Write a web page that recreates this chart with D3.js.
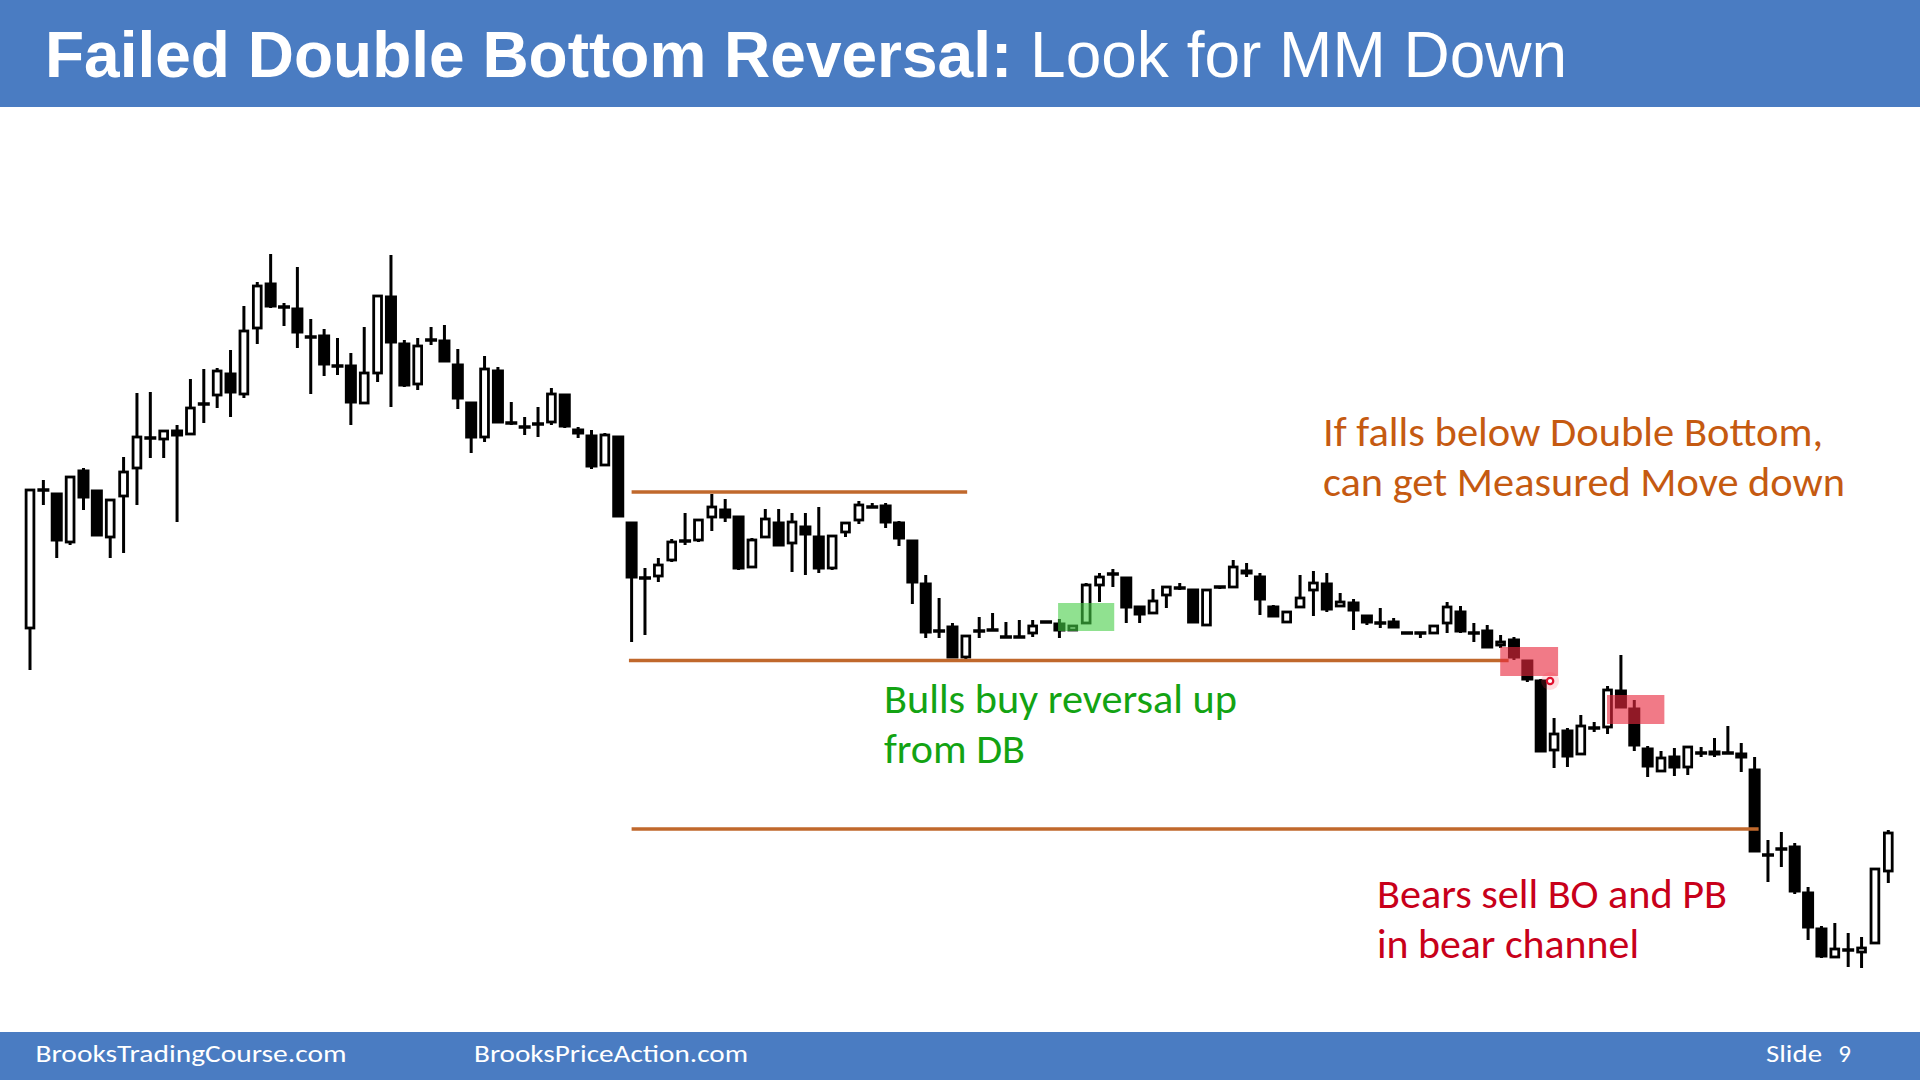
<!DOCTYPE html>
<html><head><meta charset="utf-8">
<script src="https://cdn.jsdelivr.net/npm/d3@7"></script>
<style>
html,body{margin:0;padding:0;background:#fff;}
svg{display:block;}
</style></head><body>
<svg id="chart" width="1920" height="1080"></svg>
<script>
// ---- Data (bar index 1..140, price units) ----
const opens = [472,610,607,558,630,610,563,604,632,662,661,670,666,696,705,727,706,772,817,793,792,763,765,734,735,697,727,804,757,716,760,760,736,698,663,730,677,673,676,678,706,671,665,635,664,578,522,524,540,559,560,583,591,584,533,563,578,557,574,564,532,568,580,593,595,578,560,517,469,474,443,469,470,463,463,467,478,477,470,477,515,526,523,494,487,505,512,511,475,513,513,530,524,494,478,493,510,517,494,498,485,477,479,467,467,467,477,489,467,470,455,461,440,420,350,370,346,372,373,410,392,352,329,344,333,347,349,347,347,331,245,251,254,208,172,143,150,148,157,229];
const highs = [610,620,607,623,632,610,601,643,707,708,670,675,721,731,732,750,794,818,846,797,833,781,771,762,747,773,804,845,760,762,773,775,751,698,744,733,698,683,693,712,706,673,670,667,664,578,532,542,561,587,580,606,601,584,562,591,591,587,587,593,564,578,599,597,597,579,560,525,502,477,464,483,487,478,480,480,479,481,474,517,527,531,523,494,511,514,517,511,511,514,540,537,527,495,488,525,529,527,507,501,485,492,482,468,468,474,498,494,477,475,465,463,440,421,382,372,385,378,414,445,400,354,349,352,353,353,362,374,357,343,260,268,257,213,174,177,167,163,232,270];
const lows = [430,595,542,555,590,564,542,547,595,642,642,578,666,677,692,683,702,756,792,774,752,706,724,725,675,697,718,693,713,710,755,738,691,647,658,677,675,665,663,675,672,662,631,635,583,458,465,518,538,555,558,569,578,530,533,563,554,528,525,527,530,563,576,593,572,554,496,462,462,442,440,462,469,463,462,463,477,462,470,477,498,513,477,477,487,492,510,477,475,511,512,523,485,483,478,493,484,488,493,470,475,472,472,466,462,467,467,467,458,452,452,440,418,348,332,333,346,368,366,392,349,323,329,324,325,343,343,346,328,248,218,233,206,160,142,143,133,132,157,217];
const closes = [610,610,559,623,602,564,600,628,663,662,669,664,692,696,729,707,769,814,793,793,767,763,735,734,697,727,804,757,714,754,760,738,701,662,731,677,677,673,676,706,673,666,633,665,583,522,522,535,558,559,580,593,582,531,560,581,554,578,565,531,564,577,595,593,577,561,517,467,469,442,464,469,470,463,463,474,478,469,474,515,523,526,492,485,499,513,512,477,510,513,533,526,500,483,488,502,517,490,498,489,477,477,472,467,467,474,493,468,467,452,458,442,420,348,366,343,374,372,410,392,354,333,342,332,353,347,345,347,342,248,245,251,208,172,143,151,150,152,231,267];

// Horizontal reference levels (price) and the bar range they span
const levelPrices = [608, 439.5, 271];
const levelFrom   = [46.0, 45.8, 46.0];
const levelTo     = [71.1, 111.6, 130.3];

// Highlight zones: bar index range and price range
const zoneKinds   = ['bull', 'bear', 'bear'];
const zoneFrom    = [77.9, 110.97, 118.96];
const zoneTo      = [82.1, 115.3, 123.25];
const zoneLow     = [469, 424, 376];
const zoneHigh    = [497, 453, 405];

const titleBold = 'Failed Double Bottom Reversal:';
const titleRest = 'Look for MM Down';
const noteOrange = ['If falls below Double Bottom,', 'can get Measured Move down'];
const noteGreen  = ['Bulls buy reversal up', 'from DB'];
const noteRed    = ['Bears sell BO and PB', 'in bear channel'];
const footerTexts = ['BrooksTradingCourse.com', 'BrooksPriceAction.com'];
const slideLabel = 'Slide';
const slideNum = '9';

// ---- Drawing ----
const W = 1920, H = 1080;
const svg = d3.select('#chart');
svg.append('rect').attr('width', W).attr('height', H).attr('fill', '#ffffff');

const bars = opens.map((o, i) => ({i: i + 1, o, h: highs[i], l: lows[i], c: closes[i]}));

const x = d3.scaleLinear().domain([1, 140]).range([30, 1888.3]);
const y = d3.scaleLinear().domain([0, 1100]).range([1100, 0]);

const g = svg.append('g');

// wicks
g.selectAll('line.wick').data(bars).join('line')
  .attr('class', 'wick')
  .attr('x1', d => x(d.i)).attr('x2', d => x(d.i))
  .attr('y1', d => y(d.h)).attr('y2', d => y(d.l))
  .attr('stroke', '#000').attr('stroke-width', 3);

// dojis
const dojis = bars.filter(d => d.o === d.c);
g.selectAll('line.doji').data(dojis).join('line')
  .attr('class', 'doji')
  .attr('x1', d => x(d.i) - 6).attr('x2', d => x(d.i) + 6)
  .attr('y1', d => y(d.o)).attr('y2', d => y(d.o))
  .attr('stroke', '#000').attr('stroke-width', 3.5);

// bear bodies (filled)
const bears = bars.filter(d => d.c < d.o);
g.selectAll('rect.bear').data(bears).join('rect')
  .attr('class', 'bear')
  .attr('x', d => x(d.i) - 6)
  .attr('width', 12)
  .attr('y', d => y(d.o) - 0.5)
  .attr('height', d => Math.max(y(d.c) - y(d.o) + 1, 4))
  .attr('fill', '#000');

// bull bodies (hollow)
const bulls = bars.filter(d => d.c > d.o);
g.selectAll('rect.bull').data(bulls).join('rect')
  .attr('class', 'bull')
  .attr('x', d => x(d.i) - 3.9)
  .attr('width', 7.8)
  .attr('y', d => y(d.c))
  .attr('height', d => Math.max(y(d.o) - y(d.c), 3))
  .attr('fill', '#fff')
  .attr('stroke', '#000').attr('stroke-width', 2.8);

// level lines
const levels = levelPrices.map((p, k) => ({p, a: levelFrom[k], b: levelTo[k]}));
g.selectAll('line.level').data(levels).join('line')
  .attr('class', 'level')
  .attr('x1', d => x(d.a)).attr('x2', d => x(d.b))
  .attr('y1', d => y(d.p)).attr('y2', d => y(d.p))
  .attr('stroke', '#C0682C').attr('stroke-width', 3.6);

// zones
const zones = zoneKinds.map((k, j) => ({k, a: zoneFrom[j], b: zoneTo[j], lo: zoneLow[j], hi: zoneHigh[j]}));
g.selectAll('rect.zone').data(zones).join('rect')
  .attr('class', 'zone')
  .attr('x', d => x(d.a)).attr('width', d => x(d.b) - x(d.a))
  .attr('y', d => y(d.hi)).attr('height', d => y(d.lo) - y(d.hi))
  .attr('fill', d => d.k === 'bull' ? 'rgba(70,205,70,0.6)' : 'rgba(232,40,62,0.62)');

// cursor marker
const mk = {i: 114.7, p: 419};
g.append('circle').attr('cx', x(mk.i)).attr('cy', y(mk.p)).attr('r', 9)
  .attr('fill', 'rgba(255,60,80,0.18)');
g.append('circle').attr('cx', x(mk.i)).attr('cy', y(mk.p)).attr('r', 3.2)
  .attr('fill', '#fff').attr('stroke', '#E0102E').attr('stroke-width', 2.2);

// header bar
svg.append('rect').attr('x', 0).attr('y', 0).attr('width', W).attr('height', 107).attr('fill', '#4A7CC2');
const title = svg.append('text').attr('x', 45).attr('y', 77)
  .attr('fill', '#fff').attr('font-family', '"Liberation Sans", Arial, sans-serif').attr('font-size', 64);
title.append('tspan').attr('font-weight', 'bold').text(titleBold + ' ');
title.append('tspan').text(titleRest);

// footer bar
svg.append('rect').attr('x', 0).attr('y', 1032).attr('width', W).attr('height', 48).attr('fill', '#4A7CC2');
const footFont = 'Carlito, Calibri, Lato, "Open Sans", sans-serif';
const footX = [35.5, 474], footLen = [311, 274];
footerTexts.forEach((t, k) => {
  svg.append('text').attr('x', footX[k]).attr('y', 1062).attr('fill', '#fff')
    .attr('font-family', footFont).attr('font-size', 25)
    .attr('textLength', footLen[k]).attr('lengthAdjust', 'spacingAndGlyphs').text(t);
});
svg.append('text').attr('x', 1766).attr('y', 1062).attr('fill', '#fff')
  .attr('font-family', footFont).attr('font-size', 25)
  .attr('textLength', 56).attr('lengthAdjust', 'spacingAndGlyphs').text(slideLabel);
svg.append('text').attr('x', 1851).attr('y', 1062).attr('fill', '#fff').attr('text-anchor', 'end')
  .attr('font-family', footFont).attr('font-size', 25).text(slideNum);

// annotations
function note(lines, x0, y0, lens, color) {
  lines.forEach((t, k) => {
    svg.append('text').attr('x', x0).attr('y', y0 + k * 50).attr('fill', color)
      .attr('font-family', footFont).attr('font-size', 40)
      .attr('textLength', lens[k]).attr('lengthAdjust', 'spacingAndGlyphs').text(t);
  });
}
note(noteOrange, 1323, 446, [500, 522], '#C55A11');
note(noteGreen, 884, 713, [353, 141], '#13A313');
note(noteRed, 1377, 908, [350, 262], '#C8001A');
</script>
</body></html>
